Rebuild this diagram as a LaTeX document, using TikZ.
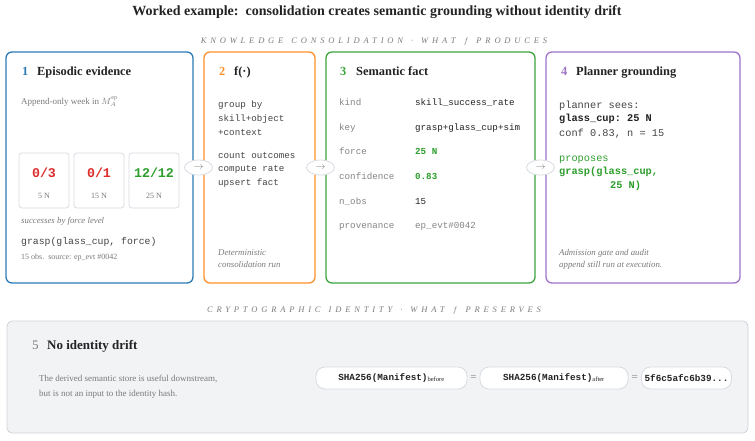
\documentclass[tikz,border=0pt]{standalone}
\usepackage{fontspec}
\setmainfont{Liberation Serif}
\setmonofont{Liberation Mono}
\usetikzlibrary{positioning,calc,shapes.geometric}
\definecolor{stepblue}{RGB}{44,123,182}
\definecolor{steporange}{RGB}{255,145,40}
\definecolor{stepgreen}{RGB}{62,165,62}
\definecolor{steppurple}{RGB}{160,115,200}
\definecolor{failred}{RGB}{220,45,45}
\definecolor{okgreen}{RGB}{45,158,45}
\definecolor{ink}{RGB}{35,35,35}
\definecolor{muted}{RGB}{122,122,122}
\definecolor{keygray}{RGB}{132,132,132}
\definecolor{boxline}{RGB}{216,220,226}
\definecolor{shade}{RGB}{242,243,245}
\definecolor{shadeline}{RGB}{206,210,216}
\newcommand{\fsz}[1]{\fontsize{#1}{#1}\selectfont}
\newcommand{\gap}{\hspace{8pt}}

\begin{document}
\begin{tikzpicture}[
  x = 1pt,
  y = -1pt,
  panel/.style = {
    draw,
    rectangle,
    rounded corners = 6pt,
    line width = 1.3pt,
    fill = white,
    outer sep = 0pt,
    minimum height = 231pt,
  },
  chip/.style = {
    draw = boxline,
    ellipse,
    fill = white,
    line width = 0.8pt,
    inner sep = 0pt,
    minimum width = 28pt,
    minimum height = 15pt,
    text = muted,
    font = \fsz{10},
  },
  tally/.style = {
    draw = boxline,
    rectangle,
    rounded corners = 3pt,
    line width = 0.8pt,
    outer sep = 0pt,
    minimum width = 50pt,
    minimum height = 55pt,
  },
  pill/.style = {
    draw = boxline,
    rectangle,
    rounded corners = 9pt,
    fill = white,
    line width = 0.8pt,
    inner sep = 0pt,
    minimum height = 22pt,
    text = ink,
    font = \fsz{9.3}\ttfamily\bfseries,
  },
  txt/.style = {anchor = mid west, inner sep = 0pt, text = ink},
  head/.style = {txt, font = \fsz{12.4}\bfseries},
  gloss/.style = {txt, text = muted, font = \fsz{9}},
  note/.style = {txt, text = muted, font = \fsz{8.8}\itshape},
  code/.style = {txt, text = ink!85, font = \fsz{9.2}\ttfamily},
  score/.style = {inner sep = 0pt, font = \fsz{13.3}\ttfamily\bfseries},
  band/.style = {inner sep = 0pt, text = muted, font = \fsz{8.5}\itshape\addfontfeature{LetterSpace=45}},
]
  \useasboundingbox (0,0) rectangle (755,440);

  \node[font = \fsz{14}\bfseries, text = ink] (title) at (377,12)
    {Worked example:\ \ consolidation creates semantic grounding without identity drift};
  \node[band] (hdA) at (374,41)
    {KNOWLEDGE\gap CONSOLIDATION\gap ·\gap WHAT\gap $f$\gap PRODUCES};

  % four stages
  \node[panel, draw = stepblue, minimum width = 187pt] (p1) at (99.5,167.5) {};
  \node[panel, draw = steporange, minimum width = 111pt] (p2) [right=11pt of p1] {};
  \node[panel, draw = stepgreen, minimum width = 209pt] (p3) [right=11pt of p2] {};
  \node[panel, draw = steppurple, minimum width = 194pt] (p4) [right=11pt of p3] {};

  % 1 episodic evidence
  \node[head, text = stepblue] (n1) at (22,73) {1};
  \node[head] (h1) at (37,73) {Episodic evidence};
  \node[gloss] (g1) at (21,102) {Append-only week in $M_A^{\mathrm{ep}}$};
  \node[tally] (t1) at (44,180.5) {};
  \node[tally] (t2) [right=5pt of t1] {};
  \node[tally] (t3) [right=5pt of t2] {};
  \node[score, text = failred] (s1) at ($(t1.center)+(0,-7.5)$) {0/3};
  \node[score, text = failred] (s2) at ($(t2.center)+(0,-7.5)$) {0/1};
  \node[score, text = okgreen] (s3) at ($(t3.center)+(0,-7.5)$) {12/12};
  \node[font = \fsz{8}, text = muted] (f1) at ($(t1.center)+(0,15.5)$) {5 N};
  \node[font = \fsz{8}, text = muted] (f2) at ($(t2.center)+(0,15.5)$) {15 N};
  \node[font = \fsz{8}, text = muted] (f3) at ($(t3.center)+(0,15.5)$) {25 N};
  \node[note] (cap1) at (21,221) {successes by force level};
  \node[code, font = \fsz{9.8}\ttfamily] (call1) at (21,242) {grasp(glass\_cup, force)};
  \node[gloss, font = \fsz{8}] (src1) at (21,257) {15 obs.\ \ source: ep\_evt \#0042};

  % 2 f
  \node[head, text = steporange] (n2) at (219,73) {2};
  \node[head] (h2) at (234,73) {f(·)};
  \foreach \line/\y in {group by/105, skill+object/119, +context/133,
                        count outcomes/156, compute rate/169, upsert fact/183}
    \node[code] (op\y) at (218,\y) {\line};
  \node[note] (d2a) at (218,253) {Deterministic};
  \node[note] (d2b) at (218,265) {consolidation run};

  % 3 semantic fact
  \node[head, text = stepgreen] (n3) at (340,73) {3};
  \node[head] (h3) at (356,73) {Semantic fact};
  \foreach \k/\v/\y/\c/\w in {kind/skill\_success\_rate/103/ink/\mdseries,
                              key/grasp+glass\_cup+sim/128/ink/\mdseries,
                              force/25 N/152/okgreen/\bfseries,
                              confidence/0.83/177/okgreen/\bfseries,
                              n\_obs/15/202/ink/\mdseries,
                              provenance/ep\_evt\#0042/226/keygray/\mdseries} {
    \node[code, text = keygray] (k\y) at (339,\y) {\k};
    \node[code, text = \c] (v\y) at (415,\y) {\w\v};
  }

  % 4 planner grounding
  \node[head, text = steppurple] (n4) at (561,73) {4};
  \node[head] (h4) at (576,73) {Planner grounding};
  \node[code, font = \fsz{10.3}\ttfamily] (q1) at (559,106) {planner sees:};
  \node[code, font = \fsz{10.3}\ttfamily\bfseries, text = ink] (q2) at (559,119) {glass\_cup: 25 N};
  \node[code, font = \fsz{10.3}\ttfamily] (q3) at (559,134) {conf 0.83, n = 15};
  \node[code, font = \fsz{10.3}\ttfamily, text = okgreen] (q4) at (559,159) {proposes};
  \node[code, font = \fsz{10.3}\ttfamily\bfseries, text = okgreen] (q5) at (559,172) {grasp(glass\_cup,};
  \node[code, font = \fsz{10.3}\ttfamily\bfseries, text = okgreen] (q6) at (610,186) {25 N)};
  \node[note] (d4a) at (559,253) {Admission gate and audit};
  \node[note] (d4b) at (559,265) {append still run at execution.};

  % hand-offs
  \node[chip] (c12) at ($(p1.east)!.5!(p2.west)$) {$\to$};
  \node[chip] (c23) at ($(p2.east)!.5!(p3.west)$) {$\to$};
  \node[chip] (c34) at ($(p3.east)!.5!(p4.west)$) {$\to$};

  % 5 identity
  \node[band] (hdB) at (374,310)
    {CRYPTOGRAPHIC\gap IDENTITY\gap ·\gap WHAT\gap $f$\gap PRESERVES};
  \node[draw = shadeline, fill = shade, rounded corners = 5pt, line width = 0.8pt,
        minimum width = 741pt, minimum height = 112pt] (p5) at (377.5,377) {};
  \node[txt, font = \fsz{13}, text = muted] (n5) at (32,347) {5};
  \node[txt, font = \fsz{13}\bfseries] (h5) at (47,347) {No identity drift};
  \node[gloss] (b1) at (39,379) {The derived semantic store is useful downstream,};
  \node[gloss] (b2) at (39,394) {but is not an input to the identity hash.};
  \node[pill, minimum width = 151pt] (hb) at (391.5,378)
    {SHA256(Manifest)\textsubscript{\rmfamily\mdseries before}};
  \node[pill, minimum width = 148pt] (ha) at (554,378)
    {SHA256(Manifest)\textsubscript{\rmfamily\mdseries after}};
  \node[pill, minimum width = 90pt] (hv) at (686.5,378) {5f6c5afc6b39...};
  \node[text = muted, font = \fsz{11}] (eq1) at ($(hb.east)!.5!(ha.west)$) {=};
  \node[text = muted, font = \fsz{11}] (eq2) at ($(ha.east)!.5!(hv.west)$) {=};

\end{tikzpicture}
\end{document}
